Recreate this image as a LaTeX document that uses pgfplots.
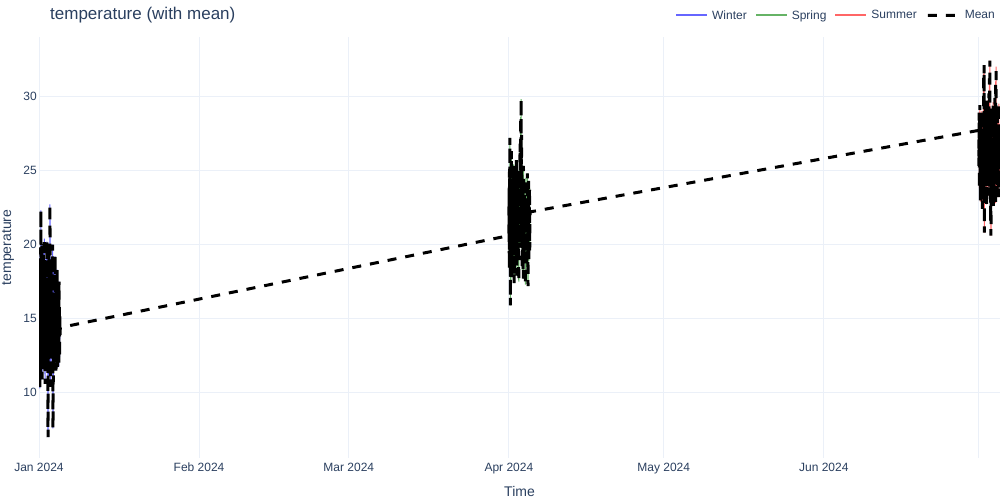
\documentclass[border=0pt]{standalone}
\usepackage{fontspec}
\setmainfont{Liberation Sans}
\usepackage{pgfplots}
\usepackage{pgfplotstable}
\pgfplotsset{compat=1.18}
\definecolor{txt}{HTML}{2A3F5F}
\definecolor{gridc}{HTML}{EBF0F8}
\definecolor{cwin}{RGB}{102,102,255}
\definecolor{cspr}{RGB}{102,179,102}
\definecolor{csum}{RGB}{255,102,102}

\pgfplotstableread[row sep=\\]{
h t\\
0 16.2\\ 1 12.4\\ 2 18.9\\ 3 14.1\\ 4 10.3\\ 5 19.8\\ 6 13.5\\ 7 15.9\\ 8 11.2\\ 9 22.3\\
10 14.6\\ 11 17.3\\ 12 12.8\\ 13 20.1\\ 14 15.4\\ 15 10.9\\ 16 18.2\\ 17 13.7\\ 18 16.8\\ 19 12.1\\
20 19.4\\ 21 14.9\\ 22 11.6\\ 23 17.8\\ 24 15.1\\ 25 20.4\\ 26 13.2\\ 27 16.5\\ 28 10.6\\ 29 18.7\\
30 14.3\\ 31 12.9\\ 32 19.1\\ 33 15.7\\ 34 11.8\\ 35 17.1\\ 36 13.9\\ 37 20.2\\ 38 15.2\\ 39 12.5\\
40 16.9\\ 41 9.2\\ 42 7.0\\ 43 18.4\\ 44 14.7\\ 45 12.2\\ 46 19.6\\ 47 15.5\\ 48 11.1\\ 49 16.3\\
50 13.6\\ 51 22.7\\ 52 14.8\\ 53 17.6\\ 54 10.4\\ 55 15.8\\ 56 19.0\\ 57 12.7\\ 58 16.1\\ 59 13.3\\
60 18.1\\ 61 11.4\\ 62 15.0\\ 63 20.0\\ 64 13.8\\ 65 7.6\\ 66 8.9\\ 67 16.7\\ 68 12.6\\ 69 18.6\\
70 14.2\\ 71 11.9\\ 72 17.4\\ 73 15.6\\ 74 13.1\\ 75 19.2\\ 76 12.3\\ 77 16.4\\ 78 14.0\\ 79 11.5\\
80 17.9\\ 81 13.4\\ 82 15.3\\ 83 12.0\\ 84 18.3\\ 85 14.5\\ 86 11.7\\ 87 16.6\\ 88 13.0\\ 89 17.2\\
90 12.9\\ 91 15.9\\ 92 11.8\\ 93 17.5\\ 94 13.6\\ 95 16.0\\ 96 12.4\\ 97 15.2\\ 98 13.9\\ 99 14.4\\
}\winter

\pgfplotstableread[row sep=\\]{
h t\\
2184 20.6\\ 2185 23.8\\ 2186 18.4\\ 2187 25.1\\ 2188 19.7\\ 2189 27.2\\ 2190 21.3\\ 2191 15.9\\ 2192 24.2\\ 2193 17.6\\
2194 22.5\\ 2195 19.1\\ 2196 26.3\\ 2197 20.2\\ 2198 17.8\\ 2199 23.6\\ 2200 21.0\\ 2201 18.7\\ 2202 24.9\\ 2203 20.4\\
2204 22.8\\ 2205 18.1\\ 2206 25.4\\ 2207 19.9\\ 2208 21.7\\ 2209 17.4\\ 2210 23.3\\ 2211 20.8\\ 2212 24.6\\ 2213 19.3\\
2214 22.1\\ 2215 18.6\\ 2216 20.9\\ 2217 23.9\\ 2218 19.6\\ 2219 25.7\\ 2220 21.4\\ 2221 17.9\\ 2222 22.7\\ 2223 20.3\\
2224 24.1\\ 2225 18.9\\ 2226 21.9\\ 2227 19.5\\ 2228 23.1\\ 2229 20.7\\ 2230 17.5\\ 2231 22.4\\ 2232 25.0\\ 2233 19.8\\
2234 21.2\\ 2235 23.5\\ 2236 26.8\\ 2237 20.0\\ 2238 24.4\\ 2239 28.6\\ 2240 21.8\\ 2241 29.8\\ 2242 22.9\\ 2243 27.4\\
2244 20.5\\ 2245 24.7\\ 2246 18.3\\ 2247 22.2\\ 2248 19.2\\ 2249 23.7\\ 2250 21.1\\ 2251 17.7\\ 2252 25.3\\ 2253 20.1\\
2254 22.6\\ 2255 18.8\\ 2256 24.0\\ 2257 21.5\\ 2258 19.4\\ 2259 23.2\\ 2260 20.6\\ 2261 17.3\\ 2262 22.0\\ 2263 24.5\\
2264 19.7\\ 2265 21.6\\ 2266 23.4\\ 2267 18.5\\ 2268 22.3\\ 2269 20.9\\ 2270 24.8\\ 2271 19.0\\ 2272 21.3\\ 2273 17.2\\
2274 23.0\\ 2275 20.4\\ 2276 24.3\\ 2277 18.9\\ 2278 22.6\\ 2279 21.0\\ 2280 23.8\\ 2281 19.6\\ 2282 21.7\\ 2283 22.2\\
}\spring

\pgfplotstableread[row sep=\\]{
h t\\
4368 27.7\\ 4369 25.3\\ 4370 28.9\\ 4371 23.8\\ 4372 26.6\\ 4373 29.4\\ 4374 24.7\\ 4375 27.1\\ 4376 22.9\\ 4377 28.2\\
4378 25.8\\ 4379 23.4\\ 4380 27.9\\ 4381 26.1\\ 4382 24.2\\ 4383 29.0\\ 4384 25.5\\ 4385 22.4\\ 4386 28.5\\ 4387 26.9\\
4388 24.0\\ 4389 27.4\\ 4390 25.1\\ 4391 31.5\\ 4392 23.1\\ 4393 32.1\\ 4394 20.8\\ 4395 26.4\\ 4396 28.7\\ 4397 24.5\\
4398 27.6\\ 4399 25.0\\ 4400 29.3\\ 4401 23.6\\ 4402 26.8\\ 4403 24.9\\ 4404 28.1\\ 4405 22.7\\ 4406 27.0\\ 4407 25.7\\
4408 29.7\\ 4409 24.3\\ 4410 26.2\\ 4411 28.4\\ 4412 23.3\\ 4413 27.3\\ 4414 25.4\\ 4415 30.2\\ 4416 24.6\\ 4417 26.7\\
4418 31.2\\ 4419 23.9\\ 4420 32.4\\ 4421 25.2\\ 4422 27.8\\ 4423 21.5\\ 4424 28.8\\ 4425 20.6\\ 4426 26.0\\ 4427 29.1\\
4428 24.4\\ 4429 27.5\\ 4430 25.9\\ 4431 23.0\\ 4432 28.3\\ 4433 26.3\\ 4434 24.8\\ 4435 29.6\\ 4436 22.6\\ 4437 27.2\\
4438 25.6\\ 4439 28.6\\ 4440 23.7\\ 4441 26.5\\ 4442 24.1\\ 4443 29.9\\ 4444 25.2\\ 4445 27.0\\ 4446 22.8\\ 4447 31.0\\
4448 26.0\\ 4449 32.0\\ 4450 24.6\\ 4451 28.0\\ 4452 23.5\\ 4453 27.6\\ 4454 25.3\\ 4455 29.2\\ 4456 24.0\\ 4457 26.8\\
4458 28.4\\ 4459 23.2\\ 4460 27.1\\ 4461 25.5\\ 4462 29.5\\ 4463 24.2\\ 4464 26.6\\ 4465 28.1\\ 4466 23.9\\ 4467 26.3\\
}\summer

\pgfplotstablevertcat{\meantab}{\winter}
\pgfplotstablevertcat{\meantab}{\spring}
\pgfplotstablevertcat{\meantab}{\summer}

\begin{document}
\begin{tikzpicture}[x=1bp,y=1bp]
\useasboundingbox (0,0) rectangle (1000,500);
\begin{axis}[
  at={(39bp,42bp)}, anchor=south west,
  width=961bp, height=421bp, scale only axis,
  xmin=0, xmax=4467, ymin=5.6, ymax=34.0,
  xtick={0,744,1440,2184,2904,3648,4368},
  xticklabels={Jan 2024,Feb 2024,Mar 2024,Apr 2024,May 2024,Jun 2024,{}},
  ytick={10,15,20,25,30},
  grid=major, major grid style={draw=gridc, line width=1bp},
  axis line style={draw=none},
  major tick length=0pt,
  tick label style={font=\fontsize{12bp}{14bp}\selectfont, text=txt},
  /pgf/number format/assume math mode=true,
  xticklabel style={anchor=base, yshift=-14bp, inner sep=0pt},
  yticklabel style={anchor=east, xshift=-2bp, inner sep=0pt},
  xlabel={Time}, ylabel={temperature},
  every axis x label/.style={at={(rel axis cs:0.5,0)}, anchor=center, yshift=-34bp, font=\fontsize{14bp}{16bp}\selectfont, text=txt},
  every axis y label/.style={at={(rel axis cs:0,0.5)}, anchor=center, xshift=-31bp, rotate=90, font=\fontsize{14bp}{16bp}\selectfont, text=txt},
  title={temperature (with mean)},
  every axis title/.style={at={(rel axis cs:0,1)}, anchor=base west, xshift=11bp, yshift=17.7bp, font=\fontsize{17bp}{20bp}\selectfont, text=txt, inner sep=0pt},
  legend columns=4,
  legend style={draw=none, fill=none, at={(rel axis cs:1,1)}, anchor=east, xshift=-5bp, yshift=21.5bp, inner sep=0pt, font=\fontsize{12bp}{14bp}\selectfont, nodes={inner sep=0pt}, /tikz/every odd column/.style={column sep=5bp}, /tikz/every even column/.style={column sep=9bp}},
]
\addplot[draw=cwin, line width=1bp,
  legend image code/.code={\fill[fill=cwin, color=cwin] (0bp,-0.5bp) rectangle (30bp,0.5bp);}]
  table[x=h,y=t]{\winter};
\addlegendentry{\textcolor{txt}{Winter}}
\addplot[draw=cspr, line width=1bp,
  legend image code/.code={\fill[fill=cspr, color=cspr] (0bp,-0.5bp) rectangle (30bp,0.5bp);}]
  table[x=h,y=t]{\spring};
\addlegendentry{\textcolor{txt}{Spring}}
\addplot[draw=csum, line width=1bp,
  legend image code/.code={\fill[fill=csum, color=csum] (0bp,-0.5bp) rectangle (30bp,0.5bp);}]
  table[x=h,y=t]{\summer};
\addlegendentry{\textcolor{txt}{Summer}}
\addplot[draw=black, line width=3bp, dash pattern=on 9bp off 9bp,
  legend image code/.code={\fill[color=black, draw=none] (0bp,-1.5bp) rectangle (9bp,1.5bp) (18bp,-1.5bp) rectangle (27bp,1.5bp); \path (-0.5bp,0bp) (30.5bp,0bp);}]
  table[x=h,y=t]{\meantab};
\addlegendentry{\textcolor{txt}{Mean}}
\end{axis}
\end{tikzpicture}
\end{document}
